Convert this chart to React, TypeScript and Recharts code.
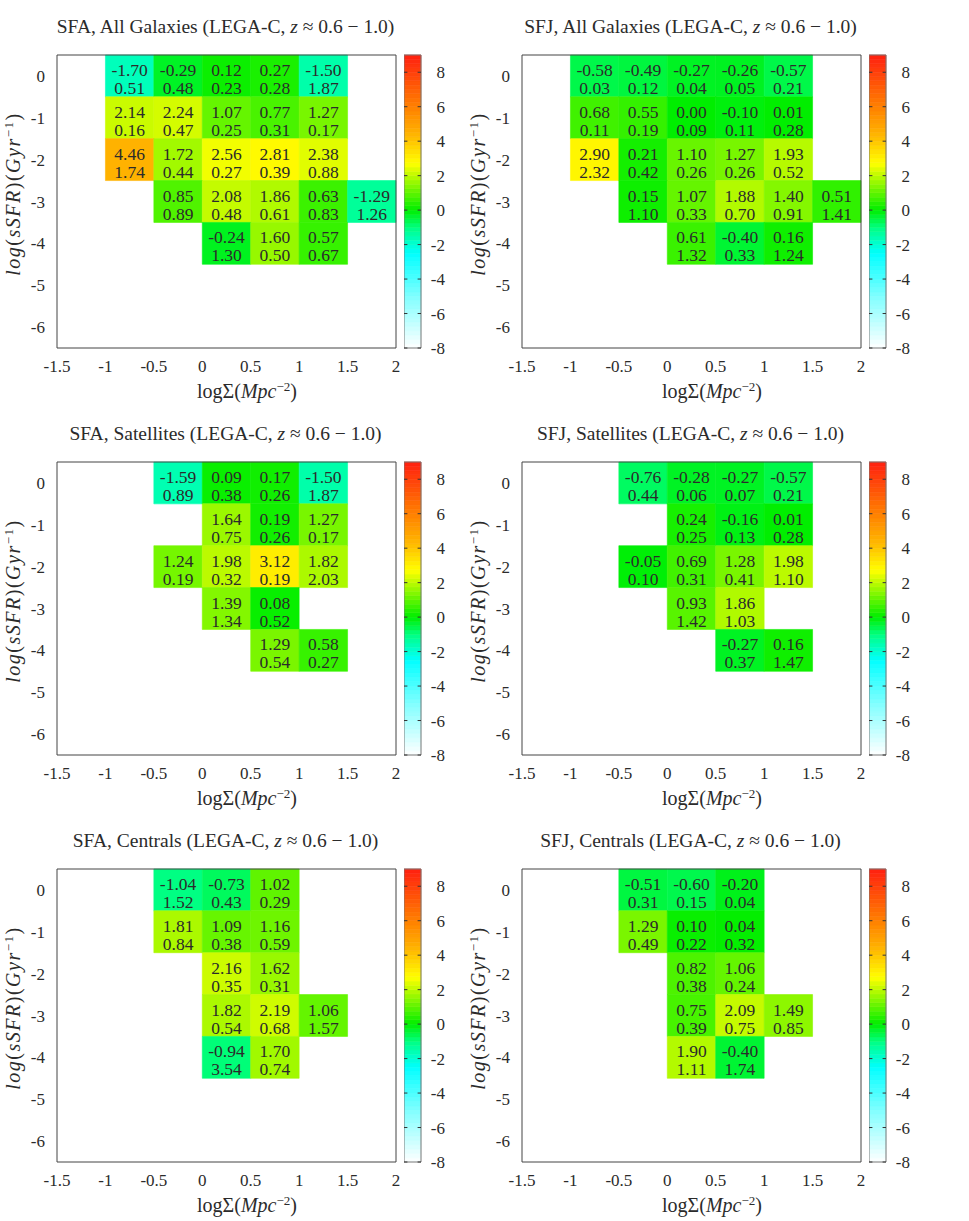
import React from "react";
import { ComposedChart, XAxis, YAxis, ReferenceArea, ReferenceLine, Scatter } from "recharts";

const FONT = '"Liberation Serif", "Times New Roman", serif';
const INK = "#2b2b2b";

const X_TICKS = [-1.5, -1, -0.5, 0, 0.5, 1, 1.5, 2];
const Y_TICKS = [0, -1, -2, -3, -4, -5, -6];
const CB_TICKS = [-8, -6, -4, -2, 0, 2, 4, 6, 8];
const BIN_W = 0.5;
const BIN_H = 1;

// palette, gnuplot-ish: white -> cyan -> green -> yellow -> orange -> red
const PAL_STOPS = [-8, -5, -2.5, -1, 0, 2.7, 4.5, 6, 9];
const PAL_COLORS = ["#ffffff", "#80ffff", "#00ffff", "#00ff80", "#00ee00", "#ffff00", "#ffb000", "#ff8000", "#ff2010"];

// [logΣ bin left edge, log sSFR row, value, error]
const SFA_ALL = [
  [-1, 0, -1.7, 0.51], [-0.5, 0, -0.29, 0.48], [0, 0, 0.12, 0.23], [0.5, 0, 0.27, 0.28], [1, 0, -1.5, 1.87],
  [-1, -1, 2.14, 0.16], [-0.5, -1, 2.24, 0.47], [0, -1, 1.07, 0.25], [0.5, -1, 0.77, 0.31], [1, -1, 1.27, 0.17],
  [-1, -2, 4.46, 1.74], [-0.5, -2, 1.72, 0.44], [0, -2, 2.56, 0.27], [0.5, -2, 2.81, 0.39], [1, -2, 2.38, 0.88],
  [-0.5, -3, 0.85, 0.89], [0, -3, 2.08, 0.48], [0.5, -3, 1.86, 0.61], [1, -3, 0.63, 0.83], [1.5, -3, -1.29, 1.26],
  [0, -4, -0.24, 1.3], [0.5, -4, 1.6, 0.5], [1, -4, 0.57, 0.67],
];
const SFJ_ALL = [
  [-1, 0, -0.58, 0.03], [-0.5, 0, -0.49, 0.12], [0, 0, -0.27, 0.04], [0.5, 0, -0.26, 0.05], [1, 0, -0.57, 0.21],
  [-1, -1, 0.68, 0.11], [-0.5, -1, 0.55, 0.19], [0, -1, 0.0, 0.09], [0.5, -1, -0.1, 0.11], [1, -1, 0.01, 0.28],
  [-1, -2, 2.9, 2.32], [-0.5, -2, 0.21, 0.42], [0, -2, 1.1, 0.26], [0.5, -2, 1.27, 0.26], [1, -2, 1.93, 0.52],
  [-0.5, -3, 0.15, 1.1], [0, -3, 1.07, 0.33], [0.5, -3, 1.88, 0.7], [1, -3, 1.4, 0.91], [1.5, -3, 0.51, 1.41],
  [0, -4, 0.61, 1.32], [0.5, -4, -0.4, 0.33], [1, -4, 0.16, 1.24],
];
const SFA_SAT = [
  [-0.5, 0, -1.59, 0.89], [0, 0, 0.09, 0.38], [0.5, 0, 0.17, 0.26], [1, 0, -1.5, 1.87],
  [0, -1, 1.64, 0.75], [0.5, -1, 0.19, 0.26], [1, -1, 1.27, 0.17],
  [-0.5, -2, 1.24, 0.19], [0, -2, 1.98, 0.32], [0.5, -2, 3.12, 0.19], [1, -2, 1.82, 2.03],
  [0, -3, 1.39, 1.34], [0.5, -3, 0.08, 0.52],
  [0.5, -4, 1.29, 0.54], [1, -4, 0.58, 0.27],
];
const SFJ_SAT = [
  [-0.5, 0, -0.76, 0.44], [0, 0, -0.28, 0.06], [0.5, 0, -0.27, 0.07], [1, 0, -0.57, 0.21],
  [0, -1, 0.24, 0.25], [0.5, -1, -0.16, 0.13], [1, -1, 0.01, 0.28],
  [-0.5, -2, -0.05, 0.1], [0, -2, 0.69, 0.31], [0.5, -2, 1.28, 0.41], [1, -2, 1.98, 1.1],
  [0, -3, 0.93, 1.42], [0.5, -3, 1.86, 1.03],
  [0.5, -4, -0.27, 0.37], [1, -4, 0.16, 1.47],
];
const SFA_CEN = [
  [-0.5, 0, -1.04, 1.52], [0, 0, -0.73, 0.43], [0.5, 0, 1.02, 0.29],
  [-0.5, -1, 1.81, 0.84], [0, -1, 1.09, 0.38], [0.5, -1, 1.16, 0.59],
  [0, -2, 2.16, 0.35], [0.5, -2, 1.62, 0.31],
  [0, -3, 1.82, 0.54], [0.5, -3, 2.19, 0.68], [1, -3, 1.06, 1.57],
  [0, -4, -0.94, 3.54], [0.5, -4, 1.7, 0.74],
];
const SFJ_CEN = [
  [-0.5, 0, -0.51, 0.31], [0, 0, -0.6, 0.15], [0.5, 0, -0.2, 0.04],
  [-0.5, -1, 1.29, 0.49], [0, -1, 0.1, 0.22], [0.5, -1, 0.04, 0.32],
  [0, -2, 0.82, 0.38], [0.5, -2, 1.06, 0.24],
  [0, -3, 0.75, 0.39], [0.5, -3, 2.09, 0.75], [1, -3, 1.49, 0.85],
  [0, -4, 1.9, 1.11], [0.5, -4, -0.4, 1.74],
];

const PANELS = [
  { method: "SFA", sample: "All Galaxies", cells: SFA_ALL },
  { method: "SFJ", sample: "All Galaxies", cells: SFJ_ALL },
  { method: "SFA", sample: "Satellites", cells: SFA_SAT },
  { method: "SFJ", sample: "Satellites", cells: SFJ_SAT },
  { method: "SFA", sample: "Centrals", cells: SFA_CEN },
  { method: "SFJ", sample: "Centrals", cells: SFJ_CEN },
];

function hex(c: string) {
  return [1, 3, 5].map((i) => parseInt(c.slice(i, i + 2), 16));
}

function paletteColor(v: number) {
  const t = Math.max(PAL_STOPS[0], Math.min(PAL_STOPS[PAL_STOPS.length - 1], v));
  let i = 0;
  while (i < PAL_STOPS.length - 2 && t > PAL_STOPS[i + 1]) i++;
  const f = (t - PAL_STOPS[i]) / (PAL_STOPS[i + 1] - PAL_STOPS[i]);
  const a = hex(PAL_COLORS[i]);
  const b = hex(PAL_COLORS[i + 1]);
  const rgb = a.map((c, k) => Math.round(c + (b[k] - c) * f));
  return `rgb(${rgb.join(",")})`;
}

const tickStyle = { fill: INK, fontSize: 17, fontFamily: FONT };

const CellText = (props: any) => {
  const { cx, cy, payload } = props;
  return (
    <g fontFamily={FONT} fontSize={17.5} fill={INK} style={{ whiteSpace: "pre" }}>
      <text x={cx} y={cy} textAnchor="middle">{payload.v.toFixed(2)}</text>
      <text x={cx} y={cy + 18} textAnchor="middle">{" " + payload.e.toFixed(2)}</text>
    </g>
  );
};

function Heatmap({ cells }: { cells: number[][] }) {
  const data = cells.map(([x, y, v, e]) => ({ x: x + BIN_W / 2, y, v, e }));
  return (
    <ComposedChart width={400} height={400} data={data} margin={{ top: 55, right: 4, bottom: 22, left: 0 }}>
      <XAxis
        type="number"
        dataKey="x"
        domain={[-1.5, 2]}
        ticks={X_TICKS}
        interval={0}
        axisLine={false}
        tickLine={false}
        tickSize={0}
        tickMargin={12}
        height={30}
        tick={tickStyle}
      />
      <YAxis
        type="number"
        dataKey="y"
        domain={[-6.5, 0.5]}
        ticks={Y_TICKS}
        interval={0}
        axisLine={false}
        tickLine={false}
        tickSize={0}
        tickMargin={12}
        width={57}
        tick={tickStyle}
      />
      {data.map((d, i) => {
        const col = paletteColor(d.v);
        return (
          <ReferenceArea
            key={i}
            x1={d.x - BIN_W / 2}
            x2={d.x + BIN_W / 2}
            y1={d.y - BIN_H / 2}
            y2={d.y + BIN_H / 2}
            fill={col}
            fillOpacity={1}
            stroke={col}
            strokeWidth={0.6}
            ifOverflow="visible"
          />
        );
      })}
      <ReferenceArea x1={-1.5} x2={2} y1={-6.5} y2={0.5} fill="none" fillOpacity={0} stroke="#444" strokeWidth={1} />
      <Scatter dataKey="y" isAnimationActive={false} shape={CellText} />
    </ComposedChart>
  );
}

const CbTick = (props: any) => {
  const { x, y, payload } = props;
  return (
    <text x={x + 24} y={y} dy="0.355em" textAnchor="end" fill={INK} fontSize={17} fontFamily={FONT}>
      {payload.value}
    </text>
  );
};

const CB_STEP = 0.25;
const CB_SLICES = Array.from({ length: 68 }, (_, i) => ({ x: 0.5, y: -8 + i * CB_STEP }));

function ColorBar() {
  return (
    <ComposedChart width={46} height={400} data={CB_SLICES} margin={{ top: 55, right: 0, bottom: 52, left: 0 }}>
      <XAxis type="number" dataKey="x" domain={[0, 1]} hide />
      <YAxis
        type="number"
        dataKey="y"
        orientation="right"
        domain={[-8, 9]}
        ticks={CB_TICKS}
        interval={0}
        axisLine={false}
        tickLine={false}
        tickSize={0}
        tickMargin={0}
        width={29}
        tick={<CbTick />}
      />
      {CB_SLICES.map((s) => {
        const col = paletteColor(s.y + CB_STEP / 2);
        return (
          <ReferenceArea key={s.y} x1={0} x2={1} y1={s.y} y2={s.y + CB_STEP} fill={col} fillOpacity={1} stroke={col} strokeWidth={0.6} />
        );
      })}
      {CB_TICKS.map((t) => (
        <ReferenceLine key={"l" + t} segment={[{ x: 0, y: t }, { x: 0.2, y: t }]} stroke="#333" />
      ))}
      {CB_TICKS.map((t) => (
        <ReferenceLine key={"r" + t} segment={[{ x: 0.8, y: t }, { x: 1, y: t }]} stroke="#333" />
      ))}
      <ReferenceArea x1={0} x2={1} y1={-8} y2={9} fill="none" fillOpacity={0} stroke="#777" strokeWidth={1} />
      <Scatter dataKey="y" isAnimationActive={false} shape={() => <g />} />
    </ComposedChart>
  );
}

const supStyle: React.CSSProperties = { fontSize: 13, verticalAlign: "7px", lineHeight: 0 };

function Panel({ method, sample, cells, left, top }: any) {
  const text: React.CSSProperties = { position: "absolute", fontFamily: FONT, color: INK, lineHeight: "22px", whiteSpace: "nowrap", textAlign: "center" };
  return (
    <div style={{ position: "absolute", left, top, width: 465, height: 407 }}>
      <div style={{ ...text, fontSize: 19.5, left: 0, width: 451, top: 16 }}>
        {method}, {sample} (LEGA-C, <i>z</i> ≈ 0.6 − 1.0)
      </div>
      <div style={{ position: "absolute", left: 0, top: 0 }}>
        <Heatmap cells={cells} />
      </div>
      <div style={{ position: "absolute", left: 404, top: 0 }}>
        <ColorBar />
      </div>
      <div style={{ ...text, fontSize: 20, left: 147, width: 200, top: 380 }}>
        logΣ(<i>Mpc</i><sup style={supStyle}>−2</sup>)
      </div>
      <div style={{ ...text, fontSize: 20, letterSpacing: 1.5, left: -97, width: 220, top: 183, transform: "rotate(-90deg)" }}>
        <i>log</i>(<i>sSFR</i>)(<i>Gyr</i><sup style={supStyle}>−1</sup>)
      </div>
    </div>
  );
}

export default function App() {
  return (
    <div style={{ position: "absolute", left: 0, top: 0, width: 969, height: 1221, background: "#fff" }}>
      {PANELS.map((p, i) => (
        <Panel key={i} {...p} left={(i % 2) * 465} top={Math.floor(i / 2) * 407} />
      ))}
    </div>
  );
}
